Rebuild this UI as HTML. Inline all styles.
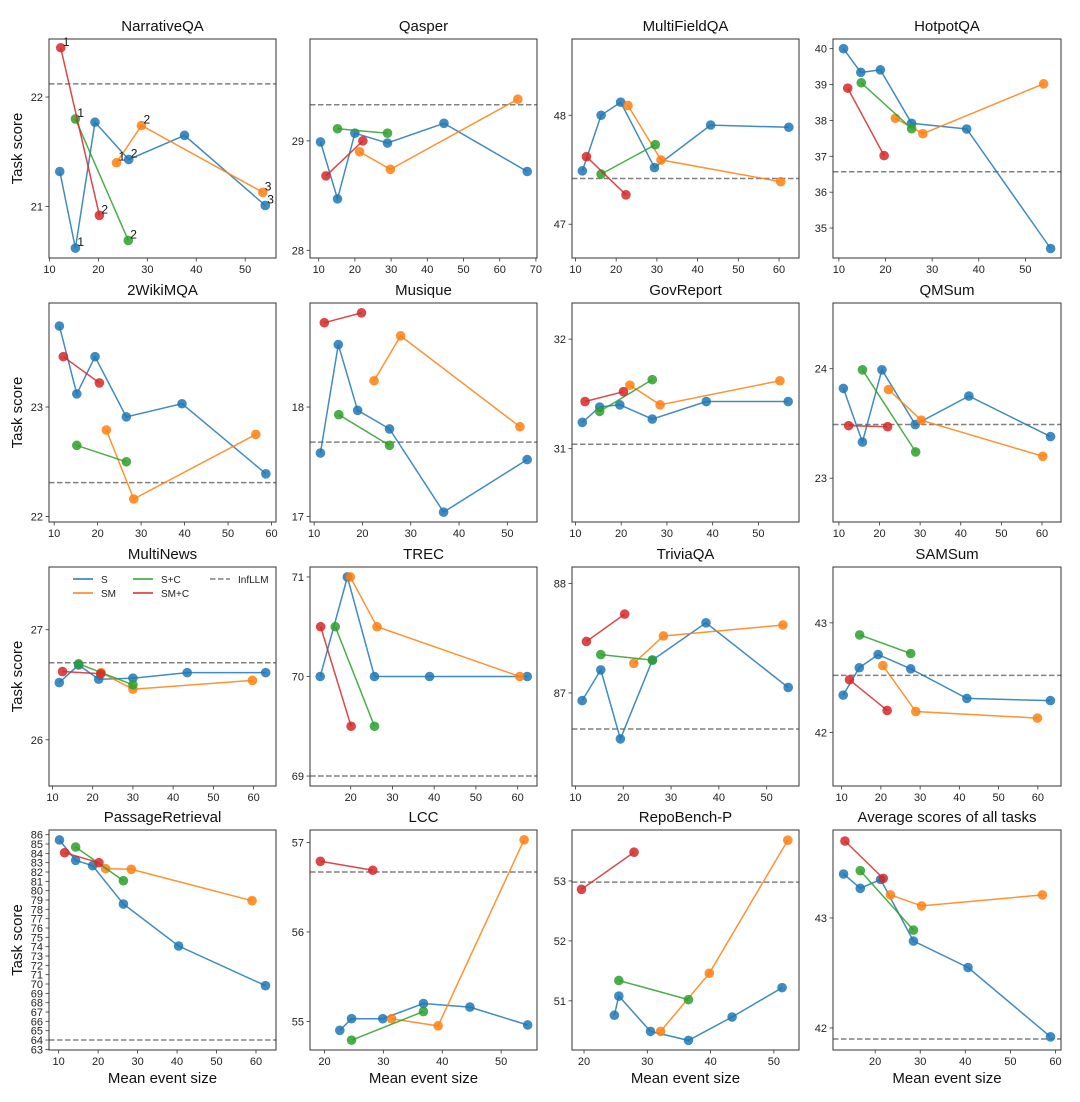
<!DOCTYPE html>
<html><head><meta charset="utf-8"><style>
html,body{margin:0;padding:0;background:#fff;}
svg{display:block;font-family:"Liberation Sans","DejaVu Sans",sans-serif;}
</style></head><body>
<svg id="chart" width="1080" height="1102" viewBox="0 0 1080 1102" xmlns="http://www.w3.org/2000/svg"></svg>
<script>
const panelNames = ["NarrativeQA","Qasper","MultiFieldQA","HotpotQA","2WikiMQA","Musique","GovReport","QMSum","MultiNews","TREC","TriviaQA","SAMSum","PassageRetrieval","LCC","RepoBench-P","Average scores of all tasks"];
const xLims = [[9.9,56.3],[7.6,70.3],[9.15,64.9],[8.74,57.63],[8.81,61.03],[9.14,56.14],[9.25,58.87],[8.55,64.68],[9.14,65.57],[10.25,64.63],[9.28,56.76],[7.8,65.9],[7.55,65.07],[17.54,56.09],[18.1,53.97],[10.65,61.23]];
const yLims = [[20.53,22.53],[27.93,29.93],[46.69,48.70],[34.165,40.27],[21.95,23.95],[16.95,18.95],[30.33,32.33],[22.6,24.6],[25.58,27.57],[68.9,71.1],[86.15,88.15],[41.51,43.51],[62.93,86.5],[54.68,57.14],[50.18,53.85],[41.80,43.80]];
const xTicks = [[10,20,30,40,50],[10,20,30,40,50,60,70],[10,20,30,40,50,60],[10,20,30,40,50],[10,20,30,40,50,60],[10,20,30,40,50],[10,20,30,40,50],[10,20,30,40,50,60],[10,20,30,40,50,60],[20,30,40,50,60],[10,20,30,40,50],[10,20,30,40,50,60],[10,20,30,40,50,60],[20,30,40,50],[20,30,40,50],[20,30,40,50,60]];
const yTicks = [[21,22],[28,29],[47,48],[35,36,37,38,39,40],[22,23],[17,18],[31,32],[23,24],[26,27],[69,70,71],[87,88],[42,43],[63,64,65,66,67,68,69,70,71,72,73,74,75,76,77,78,79,80,81,82,83,84,85,86],[55,56,57],[51,52,53],[42,43]];
const sX = [[12.1,15.3,19.3,26.2,37.6,54.1],[10.5,15.2,20.0,29.0,44.6,67.6],[11.7,16.3,21.1,29.4,43.2,62.4],[11.0,14.7,18.9,25.6,37.4,55.4],[11.2,15.2,19.4,26.6,39.4,58.7],[11.3,15.0,19.0,25.6,36.8,54.1],[11.5,15.3,19.7,26.8,38.6,56.5],[11.1,15.8,20.6,28.8,42.0,62.1],[11.7,16.5,21.5,30.0,43.5,63.0],[12.7,19.2,25.7,38.9,62.3],[11.4,15.3,19.4,26.1,37.3,54.5],[10.4,14.5,19.3,27.6,41.9,63.2],[10.2,14.3,18.6,26.4,40.4,62.4],[22.6,24.6,29.9,36.8,44.7,54.5],[24.8,25.5,30.5,36.5,43.4,51.3],[13.0,16.7,21.2,28.5,40.6,58.9]];
const sY = [[21.32,20.62,21.77,21.43,21.65,21.01],[28.99,28.47,29.07,28.98,29.16,28.72],[47.49,48.00,48.12,47.52,47.91,47.89],[40.0,39.34,39.41,37.92,37.76,34.43],[23.74,23.12,23.46,22.91,23.03,22.39],[17.58,18.57,17.97,17.80,17.04,17.52],[31.24,31.38,31.40,31.27,31.43,31.43],[23.82,23.33,23.99,23.49,23.75,23.38],[26.52,26.68,26.55,26.56,26.61,26.61],[70,71,70,70,70],[86.93,87.21,86.58,87.30,87.64,87.05],[42.34,42.59,42.71,42.58,42.31,42.29],[85.43,83.25,82.68,78.57,74.07,69.82],[54.90,55.03,55.03,55.20,55.16,54.96],[50.76,51.08,50.49,50.34,50.73,51.22],[43.40,43.27,43.35,42.79,42.55,41.92]];
const smX = [[23.7,28.8,53.6],[21.3,29.8,65.0],[22.9,31.0,60.4],[22.1,28.0,53.9],[22.0,28.3,56.4],[22.4,27.9,52.6],[21.9,28.5,54.7],[22.2,30.3,60.2],[22.1,30.0,59.7],[19.9,26.3,60.5],[22.2,28.4,53.4],[20.5,28.9,59.9],[21.9,28.4,59.0],[31.4,39.3,53.9],[32.1,39.8,52.2],[23.4,30.3,57.1]];
const smY = [[21.40,21.74,21.13],[28.90,28.74,29.38],[48.09,47.59,47.39],[38.06,37.63,39.02],[22.79,22.16,22.75],[18.24,18.65,17.82],[31.58,31.40,31.62],[23.81,23.53,23.20],[26.61,26.46,26.54],[71,70.5,70],[87.27,87.52,87.62],[42.61,42.19,42.13],[82.36,82.29,78.93],[55.03,54.95,57.03],[50.49,51.46,53.68],[43.21,43.11,43.21]];
const scX = [[15.3,26.1],[15.2,29.0],[16.3,29.6],[14.8,25.6],[15.2,26.6],[15.1,25.6],[15.3,26.8],[15.8,28.9],[16.5,30.0],[16.3,25.7],[15.3,26.1],[14.6,27.6],[14.3,26.4],[24.6,36.8],[25.5,36.5],[16.7,28.5]];
const scY = [[21.80,20.69],[29.11,29.07],[47.46,47.73],[39.05,37.77],[22.65,22.50],[17.93,17.65],[31.34,31.63],[23.99,23.24],[26.69,26.50],[70.5,69.5],[87.35,87.30],[42.89,42.72],[84.68,81.07],[54.79,55.11],[51.34,51.02],[43.43,42.89]];
const smcX = [[12.3,20.2],[12.0,22.2],[12.7,22.4],[11.9,19.7],[12.1,20.4],[12.1,19.8],[12.1,20.5],[12.4,22.0],[12.5,22.0],[12.8,20.1],[12.3,20.3],[12.0,21.6],[11.5,20.2],[19.3,28.2],[19.6,27.9],[13.3,21.8]];
const smcY = [[22.45,20.92],[28.68,29.00],[47.62,47.27],[38.90,37.02],[23.46,23.22],[18.77,18.86],[31.43,31.52],[23.48,23.47],[26.62,26.60],[70.5,69.5],[87.47,87.72],[42.48,42.20],[84.07,83.0],[56.79,56.69],[52.86,53.48],[43.70,43.36]];
const infllm = [22.12,29.33,47.42,36.57,22.31,17.68,31.04,23.49,26.70,69.0,86.67,42.52,64.0,56.67,52.98,41.90];
const narrLabelsS = ["","1","","2","","3"];
const narrLabelsSM = ["1","2","3"];
const narrLabelsSC = ["1","2"];
const narrLabelsSMC = ["1","2"];

const NS = "http://www.w3.org/2000/svg";
const svg = document.getElementById("chart");
const colBoxes = [[49,276],[310,537],[572,799],[833,1061]];
const rowBoxes = [[39,258],[303,522],[567,786],[830,1050]];
const colors = {S:"#1f77b4",SM:"#ff7f0e",SC:"#2ca02c",SMC:"#d62728"};
function mk(tag, attrs, parent){const e=document.createElementNS(NS,tag);for(const k in attrs)e.setAttribute(k,attrs[k]);(parent||svg).appendChild(e);return e;}

for(let p=0;p<16;p++){
  const c=p%4, r=Math.floor(p/4);
  const [x0,x1]=colBoxes[c], [y0,y1]=rowBoxes[r];
  const g=mk("g",{});
  
  
  const xs=v=>x0+(v-xLims[p][0])/(xLims[p][1]-xLims[p][0])*(x1-x0);
  const ys=v=>y1-(v-yLims[p][0])/(yLims[p][1]-yLims[p][0])*(y1-y0);
  const t=mk("text",{x:(x0+x1)/2,y:y0-8,"text-anchor":"middle","font-size":"15",fill:"#111"},g);
  t.textContent=panelNames[p];
  
  
  xTicks[p].forEach(v=>{const X=xs(v);mk("line",{x1:X,x2:X,y1:y1,y2:y1+3.5,stroke:"#333","stroke-width":"0.8"},g);
    const tl=mk("text",{x:X,y:y1+15,"text-anchor":"middle","font-size":"11",fill:"#222"},g);tl.textContent=v;
    
    });
  yTicks[p].forEach(v=>{const Y=ys(v);mk("line",{x1:x0-3.5,x2:x0,y1:Y,y2:Y,stroke:"#333","stroke-width":"0.8"},g);
    const tl=mk("text",{x:x0-6,y:Y+4,"text-anchor":"end","font-size":"11",fill:"#222"},g);tl.textContent=v;
    
    });
  const inf=mk("line",{x1:x0,x2:x1,y1:ys(infllm[p]),y2:ys(infllm[p]),stroke:"#808080","stroke-width":"1.5","stroke-dasharray":"5.5,2.5"},g);
  
  
  const series=[["S",sX[p],sY[p],narrLabelsS],["SM",smX[p],smY[p],narrLabelsSM],["SC",scX[p],scY[p],narrLabelsSC],["SMC",smcX[p],smcY[p],narrLabelsSMC]];
  series.forEach(([k,X,Y,labs])=>{
    const pts=X.map((v,i)=>xs(v).toFixed(1)+","+ys(Y[i]).toFixed(1)).join(" ");
    const pl=mk("polyline",{points:pts,fill:"none",stroke:colors[k],"stroke-width":"1.5","stroke-opacity":"0.85"},g);
    
    
    X.forEach((v,i)=>{const cc=mk("circle",{cx:xs(v),cy:ys(Y[i]),r:"4.8",fill:colors[k],"fill-opacity":"0.85"},g);
      
      
      if(p===0&&labs[i]){const a=mk("text",{x:xs(v)+2,y:ys(Y[i])-2,"font-size":"12",fill:"#111"},g);a.textContent=labs[i];
        
        }
    });
  });
  mk("rect",{x:x0,y:y0,width:x1-x0,height:y1-y0,fill:"none",stroke:"#333","stroke-width":"1"},g);
  if(c===0){const yl=mk("text",{x:0,y:0,transform:`translate(22,${(y0+y1)/2}) rotate(-90)`,"text-anchor":"middle","font-size":"15",fill:"#111"},g);yl.textContent="Task score";
    
    }
  if(r===3){const xl=mk("text",{x:(x0+x1)/2,y:1083,"text-anchor":"middle","font-size":"15",fill:"#111"},g);xl.textContent="Mean event size";
    
    }
}
// legend in MultiNews panel
const lg=mk("g",{});


const legendItems=[["S",colors.S,73,579,false],["SM",colors.SM,73,593,false],["S+C",colors.SC,133,579,false],["SM+C",colors.SMC,133,593,false],["InfLLM","#808080",210,579,true]];
legendItems.forEach(([lab,col,x,y,dash])=>{
  const l=mk("line",{x1:x,x2:x+20,y1:y,y2:y,stroke:col,"stroke-width":"1.5"},lg);
  if(dash)l.setAttribute("stroke-dasharray","5.5,2.5");
  const t=mk("text",{x:x+28,y:y+4,"font-size":"10",fill:"#222"},lg);t.textContent=lab;
  
  
});
</script>
</body></html>
